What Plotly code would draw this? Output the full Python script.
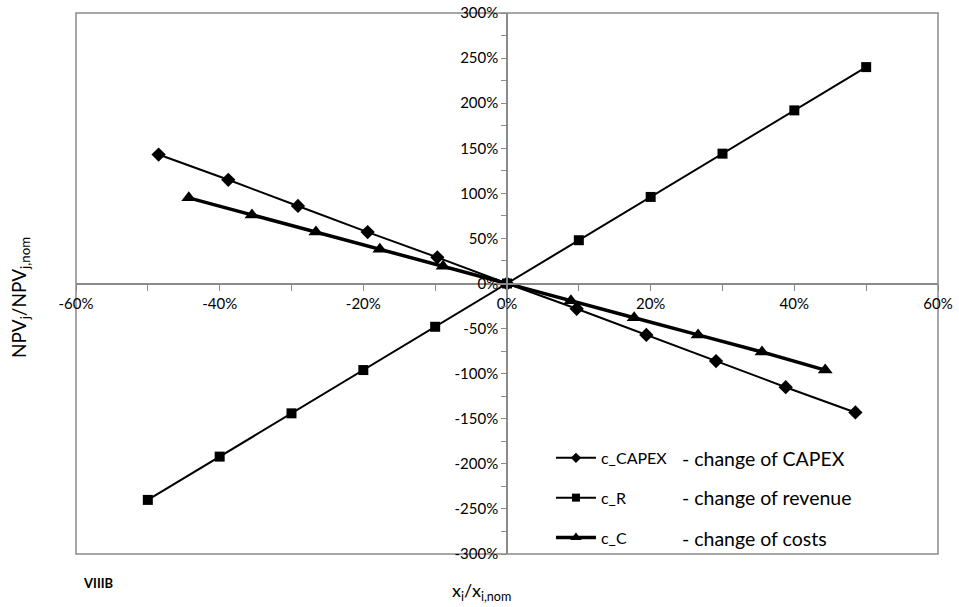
import plotly.graph_objects as go

# ---- data (percent units) ----
capex_x = [-48.5, -38.8, -29.1, -19.4, -9.7, 0, 9.7, 19.4, 29.1, 38.8, 48.5]
capex_y = [143, 115, 86, 57, 29, 0, -28, -57, -86, -115, -143]

rev_x = [-50, -40, -30, -20, -10, 0, 10, 20, 30, 40, 50]
rev_y = [-240, -192, -144, -96, -48, 0, 48, 96, 144, 192, 240]

cost_x = [-44.3, -35.5, -26.6, -17.7, -8.9, 0, 8.9, 17.7, 26.6, 35.5, 44.3]
cost_y = [95, 76, 57, 38, 19, 0, -19, -38, -57, -76, -96]

series_names = ["c_CAPEX", "c_R", "c_C"]
series_desc = ["- change of CAPEX", "- change of revenue", "- change of costs"]

x_tick_vals = [-60, -40, -20, 0, 20, 40, 60]
x_tick_text = ["-60%", "-40%", "-20%", "0%", "20%", "40%", "60%"]
x_minor_vals = [-50, -30, -10, 10, 30, 50]
y_tick_vals = [-300, -250, -200, -150, -100, -50, 0, 50, 100, 150, 200, 250, 300]
y_tick_text = ["-300%", "-250%", "-200%", "-150%", "-100%", "-50%", "0%",
               "50%", "100%", "150%", "200%", "250%", "300%"]
y_minor_vals = [-275, -225, -175, -125, -75, -25, 25, 75, 125, 175, 225, 275]

FONT = "Lato"
AX = "#8a8a8a"

styles = [
    dict(symbol="diamond", size=11, lsize=8, width=2),
    dict(symbol="square", size=10, lsize=8, width=2),
    dict(symbol="triangle-up", size=13, lsize=10, width=3.5),
]
series = [(capex_x, capex_y), (rev_x, rev_y), (cost_x, cost_y)]

fig = go.Figure()
for (xs, ys), st in zip(series, styles):
    fig.add_trace(go.Scatter(x=xs, y=ys, showlegend=False,
                             mode="lines+markers", line=dict(color="black", width=st["width"]),
                             marker=dict(symbol=st["symbol"], size=st["size"], color="black")))
# legend entries (smaller markers, as in the reference legend)
for i, (name, st) in enumerate(zip(series_names, styles)):
    fig.add_trace(go.Scatter(x=[None], y=[None], name=name, legendgroup=str(i),
                             mode="lines+markers", line=dict(color="black", width=st["width"]),
                             marker=dict(symbol=st["symbol"], size=st["lsize"], color="black")))

fig.update_layout(
    width=959, height=607,
    margin=dict(l=76, r=21, t=13, b=53),
    paper_bgcolor="white", plot_bgcolor="white",
    font=dict(family=FONT, size=15, color="black"),
    showlegend=True,
    legend=dict(x=0.551, y=0.209, xanchor="left", yanchor="top",
                bgcolor="rgba(0,0,0,0)", font=dict(size=16, family=FONT),
                tracegroupgap=16, itemwidth=40),
    xaxis=dict(range=[-60, 60], anchor="free", position=0.5, automargin=False,
               showgrid=False, zeroline=False, showline=True, linecolor=AX, linewidth=1.5,
               tickmode="array", tickvals=x_tick_vals, ticktext=x_tick_text,
               ticks="outside", ticklen=7, tickcolor=AX,
               minor=dict(tickmode="array", tickvals=x_minor_vals, ticks="outside",
                          ticklen=7, tickcolor=AX),
               tickfont=dict(size=15, family=FONT)),
    yaxis=dict(range=[-300, 300], anchor="free", position=0.5, automargin=False,
               showgrid=False, zeroline=False, showline=True, linecolor=AX, linewidth=1.5,
               tickmode="array", tickvals=y_tick_vals, ticktext=y_tick_text,
               ticks="outside", ticklen=5, tickcolor=AX,
               minor=dict(tickmode="array", tickvals=y_minor_vals, ticks="outside",
                          ticklen=5, tickcolor=AX),
               tickfont=dict(size=15, family=FONT)),
)

# plot-area frame
fig.add_shape(type="rect", xref="paper", yref="paper", x0=0, y0=0, x1=1, y1=1,
              line=dict(color=AX, width=1.5), layer="below")

# legend descriptions
row_px = [458, 497, 538]
for desc, py in zip(series_desc, row_px):
    fig.add_annotation(text=desc, xref="paper", yref="paper",
                       x=(680 - 76) / 862, y=(554 - py) / 541,
                       xanchor="left", yanchor="middle", showarrow=False,
                       font=dict(size=19.5, family=FONT, color="black"))

# axis titles and label
fig.add_annotation(text="NPV<sub>j</sub>/NPV<sub>j,nom</sub>", xref="paper", yref="paper",
                   x=(20 - 76) / 862, y=(554 - 298) / 541, textangle=-90,
                   xanchor="center", yanchor="middle", showarrow=False,
                   font=dict(size=19, family=FONT, color="black"))
fig.add_annotation(text="x<sub>i</sub>/x<sub>i,nom</sub>", xref="paper", yref="paper",
                   x=(481 - 76) / 862, y=(554 - 591) / 541,
                   xanchor="center", yanchor="middle", showarrow=False,
                   font=dict(size=18, family=FONT, color="black"))
fig.add_annotation(text="<b>VIIIB</b>", xref="paper", yref="paper",
                   x=(98 - 76) / 862, y=(554 - 583) / 541,
                   xanchor="center", yanchor="middle", showarrow=False,
                   font=dict(size=13, family=FONT, color="black"))

fig.write_html("out.html", config={"displayModeBar": False},
               post_script="document.body.style.margin='0';document.body.style.overflow='hidden';")
